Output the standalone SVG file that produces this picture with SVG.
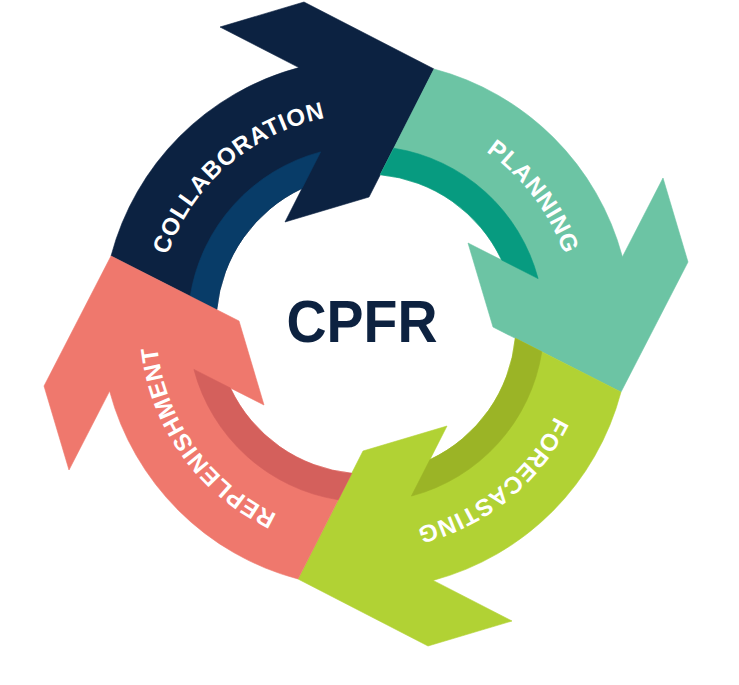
<svg xmlns="http://www.w3.org/2000/svg" width="739" height="685" viewBox="0 0 739 685">
<style>
.lbl{font-family:"Liberation Sans",Arial,sans-serif;font-weight:700;font-size:24px;letter-spacing:0.8px;fill:#ffffff;text-anchor:middle}
.title{font-family:"Liberation Sans",Arial,sans-serif;font-weight:700;font-size:59px;fill:#0d2240;text-anchor:middle}
.navy{fill:#0c2241;stroke:#0c2241;stroke-width:0.6}
.navy2{fill:#083c68;stroke:#083c68;stroke-width:0.6}
.teal{fill:#6cc4a4;stroke:#6cc4a4;stroke-width:0.6}
.teal2{fill:#079b80;stroke:#079b80;stroke-width:0.6}
.lime{fill:#b1d234;stroke:#b1d234;stroke-width:0.6}
.lime2{fill:#9bb426;stroke:#9bb426;stroke-width:0.6}
.pink{fill:#ef786d;stroke:#ef786d;stroke-width:0.6}
.pink2{fill:#d4605c;stroke:#d4605c;stroke-width:0.6}
</style>
<defs>
<path id="body" d="M111,256 A265,265 0 0 1 298.9,67.6 L220,27 L304,2 L434,69 L369,197 L285,222 L302.1,188.3 A150,150 0 0 0 216.7,309.7 Z"/>
<path id="band" d="M190.2,296.2 A178,178 0 0 1 320.6,151.9 L302.1,188.3 A150,150 0 0 0 216.7,309.7 Z"/>
<path id="arc" d="M207.5,461.8 A210,210 0 0 1 524.5,186.2" fill="none"/>
</defs>
<rect width="739" height="685" fill="#ffffff"/>
<g id="collaboration">
<use href="#body" class="navy"/>
<use href="#band" class="navy2"/>
<text class="lbl"><textPath href="#arc" startOffset="50%">COLLABORATION</textPath></text>
</g>
<g id="planning">
<use href="#body" class="teal" transform="rotate(90 366 324)"/>
<use href="#band" class="teal2" transform="rotate(90 366 324)"/>
<text class="lbl" transform="rotate(93.8 366 324)"><textPath href="#arc" startOffset="50%">PLANNING</textPath></text>
</g>
<g id="forecasting">
<use href="#body" class="lime" transform="rotate(180 366 324)"/>
<use href="#band" class="lime2" transform="rotate(180 366 324)"/>
<text class="lbl" transform="rotate(182.1 366 324)"><textPath href="#arc" startOffset="50%">FORECASTING</textPath></text>
</g>
<g id="replenishment">
<use href="#body" class="pink" transform="rotate(270 366 324)"/>
<use href="#band" class="pink2" transform="rotate(270 366 324)"/>
<text class="lbl" transform="rotate(275.5 366 324)"><textPath href="#arc" startOffset="50%">REPLENISHMENT</textPath></text>
</g>
<g id="cpfr">
<text class="title" x="362" y="342" textLength="151" lengthAdjust="spacingAndGlyphs">CPFR</text>
</g>
</svg>
